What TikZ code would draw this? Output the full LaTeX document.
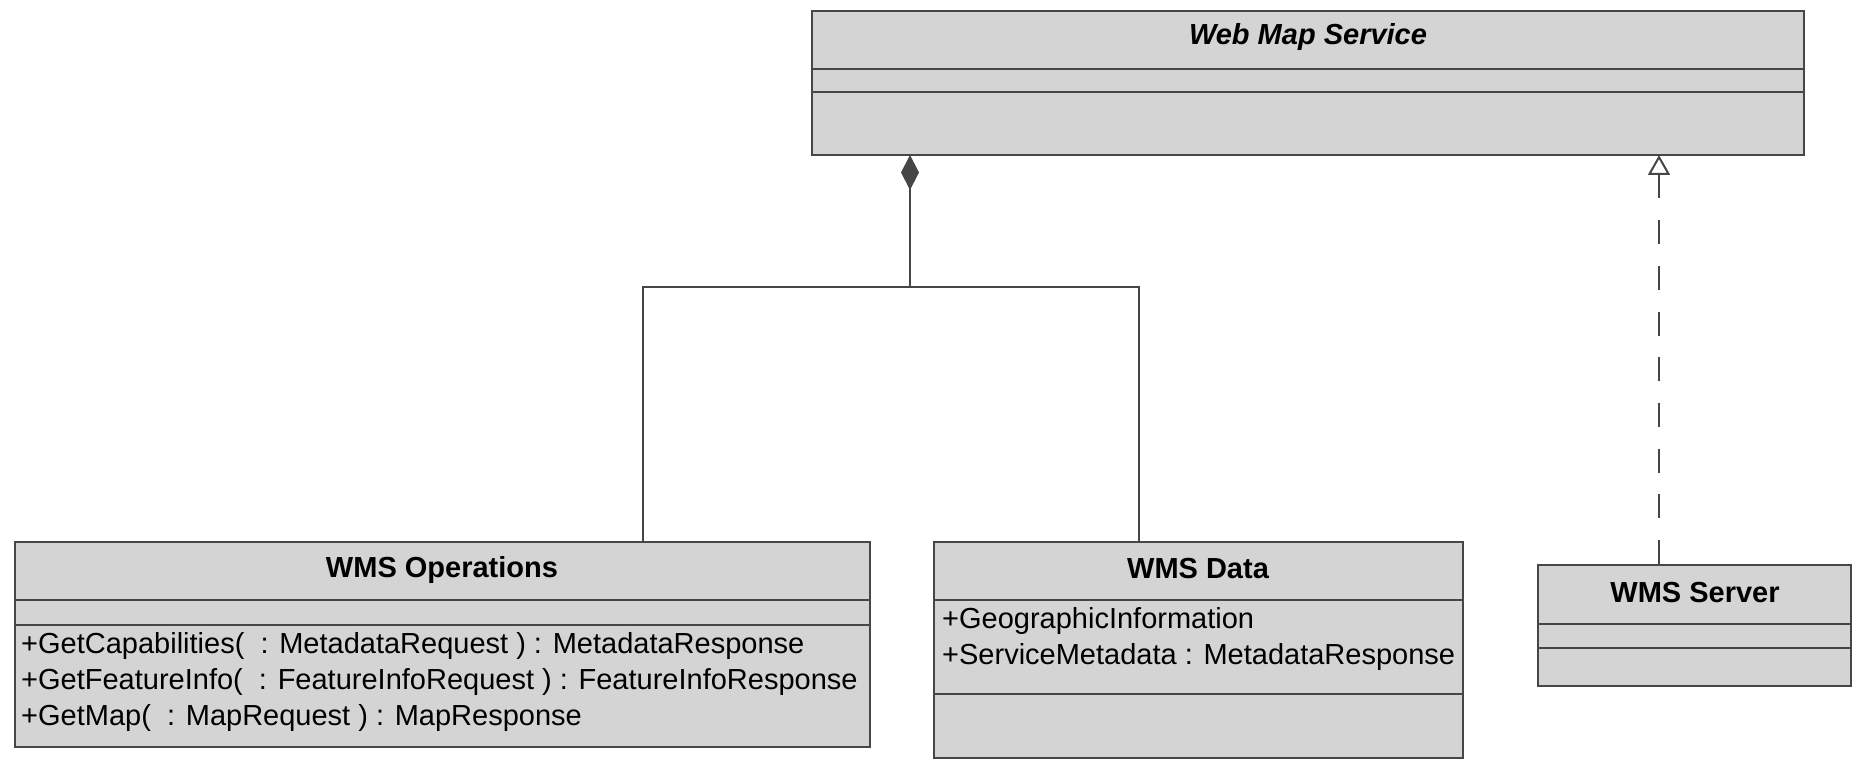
\documentclass[tikz,border=0pt]{standalone}
\usepackage{fontspec}
\setmainfont{Liberation Sans}
\usetikzlibrary{arrows.meta}
\definecolor{boxfill}{RGB}{212,212,212}
\definecolor{linegray}{RGB}{70,70,70}
\begin{document}
\begin{tikzpicture}[x=1pt,y=-1pt,
  classbox/.style={draw=linegray, fill=boxfill, line width=2.2pt, rectangle, inner sep=0pt, outer sep=0pt, anchor=north west},
  divider/.style={draw=linegray, line width=2.2pt},
  ctitle/.style={font=\fontsize{29}{29}\selectfont\bfseries, inner sep=0pt, anchor=base},
  member/.style={font=\fontsize{29}{29}\selectfont, inner sep=0pt, anchor=base west},
  conn/.style={draw=linegray, line width=2pt},
]
\useasboundingbox (0,0) rectangle (1854,762);

% Web Map Service
\node[classbox, minimum width=992pt, minimum height=144pt] (wms) at (812,11) {};
\draw[divider] (812,69) -- (1804,69);
\draw[divider] (812,92) -- (1804,92);
\node[ctitle, font=\fontsize{29}{29}\selectfont\bfseries\itshape] (wmsT) at (1308,45) {Web Map Service};

% WMS Operations
\node[classbox, minimum width=855pt, minimum height=205pt] (ops) at (15,542) {};
\draw[divider] (15,600) -- (870,600);
\draw[divider] (15,625) -- (870,625);
\node[ctitle] (opsT) at (442,577) {WMS Operations};
\node[member] (ops1) at (21,653) {+GetCapabilities(\ \ : MetadataRequest ) : MetadataResponse};
\node[member] (ops2) at (21,689) {+GetFeatureInfo(\ \ : FeatureInfoRequest ) : FeatureInfoResponse};
\node[member] (ops3) at (21,725) {+GetMap(\ \ : MapRequest ) : MapResponse};

% WMS Data
\node[classbox, minimum width=529pt, minimum height=216pt] (data) at (934,542) {};
\draw[divider] (934,600) -- (1463,600);
\draw[divider] (934,694) -- (1463,694);
\node[ctitle] (dataT) at (1198,578) {WMS Data};
\node[member] (data1) at (942,628) {+GeographicInformation};
\node[member] (data2) at (942,664) {+ServiceMetadata : MetadataResponse};

% WMS Server
\node[classbox, minimum width=313pt, minimum height=121pt] (srv) at (1538,565) {};
\draw[divider] (1538,624) -- (1851,624);
\draw[divider] (1538,648) -- (1851,648);
\node[ctitle] (srvT) at (1695,602) {WMS Server};

% composition
\coordinate (cj) at (910,287);
\draw[conn, {Diamond[length=35pt,width=18pt,fill=linegray]}-] (wms.south -| cj) -- (cj);
\draw[conn] ([xshift=628pt]ops.north west) |- (cj) -| ([xshift=205pt]data.north west);

% realization
\coordinate (rz) at (1659,0);
\draw[conn, dash pattern=on 24pt off 21.7pt, {Triangle[open,length=20pt,width=22pt,fill=white]}-] (wms.south -| rz) -- (srv.north -| rz);
\end{tikzpicture}
\end{document}
